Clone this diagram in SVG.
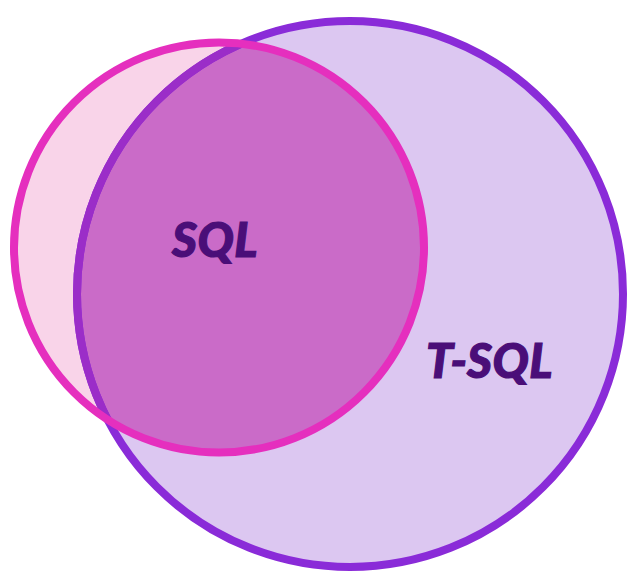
<svg xmlns="http://www.w3.org/2000/svg" width="627" height="574" viewBox="0 0 627 574">
<style>
.lbl{font-family:Lato,"Open Sans","Liberation Sans",sans-serif;font-weight:900;font-style:italic;font-size:48px;letter-spacing:0.5px;fill:#4A0E78;stroke:#4A0E78;stroke-width:1.2px}
</style>
<defs>
<clipPath id="bigClip"><circle cx="350" cy="294" r="273"/></clipPath>
<clipPath id="smallClip"><circle cx="219" cy="247.5" r="205"/></clipPath>
</defs>
<rect width="627" height="574" fill="#ffffff"/>
<g id="sql-fill"><circle cx="219" cy="247.5" r="205" fill="#F9D4E9"/></g>
<g id="tsql">
<circle cx="350" cy="294" r="273" fill="#DCC7F1"/>
</g>
<g id="overlap">
<circle cx="219" cy="247.5" r="205" fill="#CA6BC8" clip-path="url(#bigClip)"/>
</g>
<g id="tsql-stroke">
<circle cx="350" cy="294" r="273" fill="none" stroke="#8A2BD8" stroke-width="8"/>
<circle cx="350" cy="294" r="273" fill="none" stroke="#9B2DC8" stroke-width="8" clip-path="url(#smallClip)"/>
</g>
<g id="sql">
<circle cx="219" cy="247.5" r="205" fill="none" stroke="#E52FBE" stroke-width="8"/>
</g>
<text class="lbl" x="172" y="257">SQL</text>
<text class="lbl" x="426" y="378">T-SQL</text>
</svg>
